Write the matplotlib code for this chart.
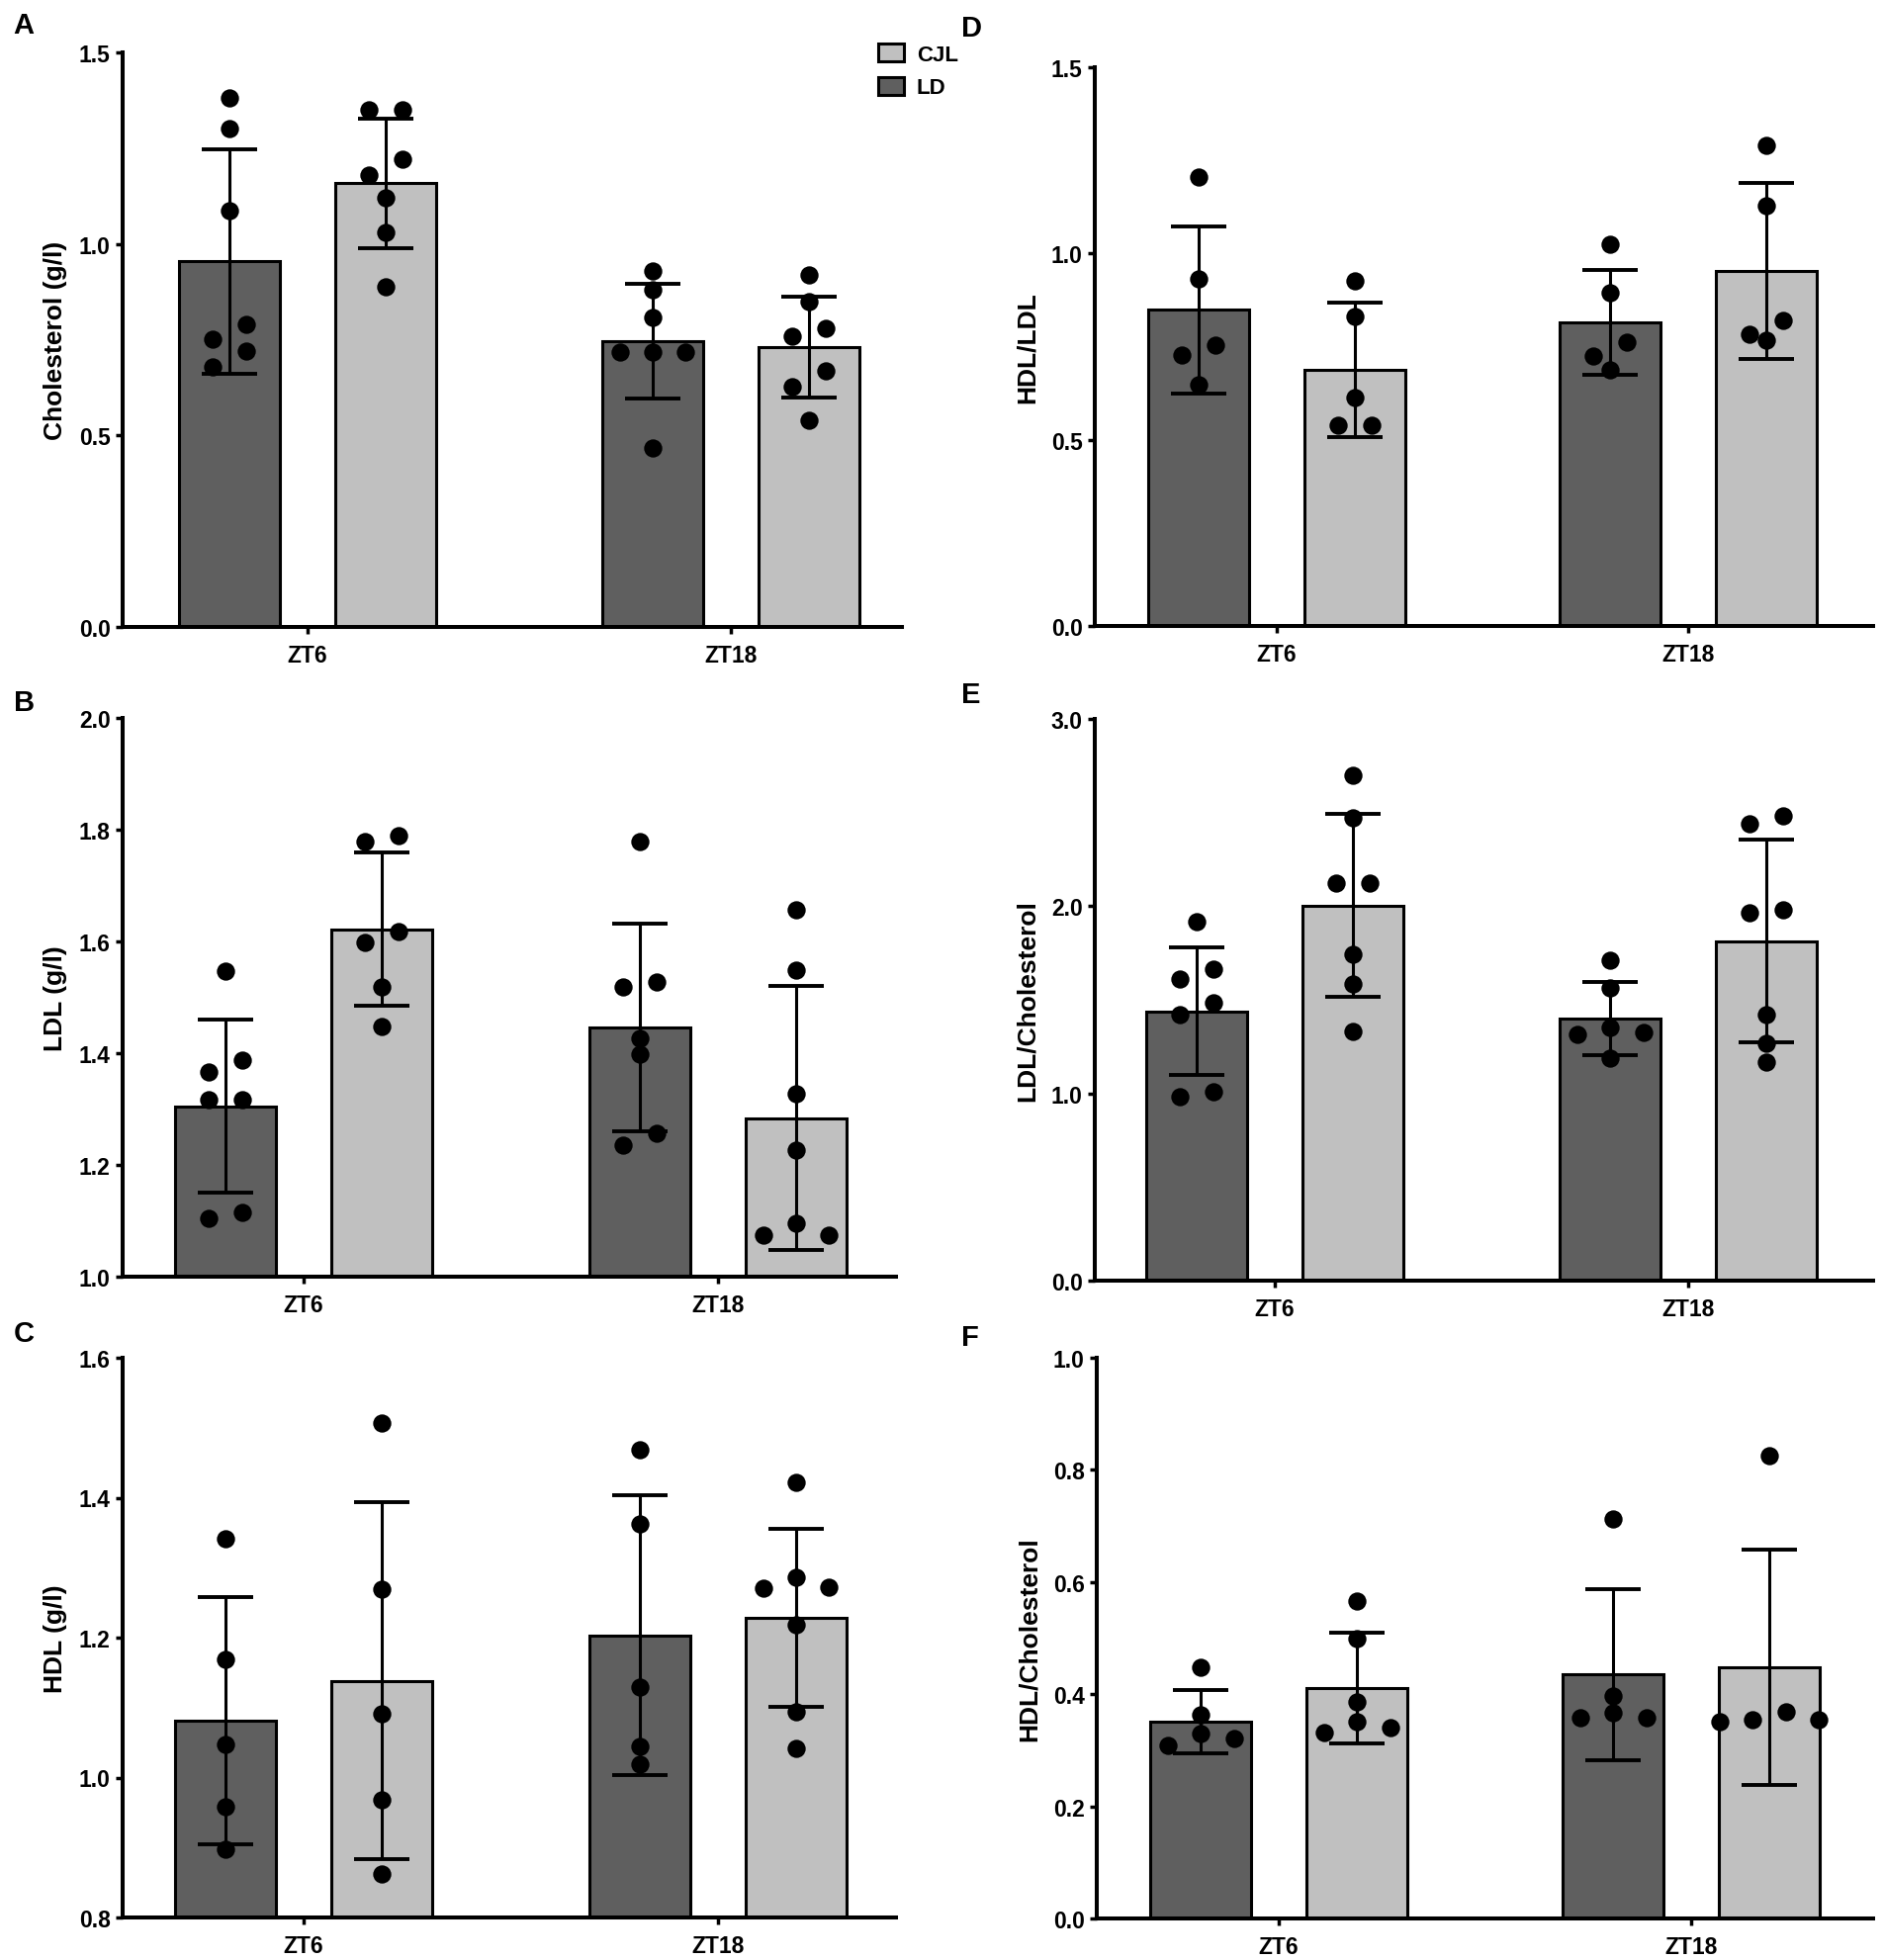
import numpy as np
import matplotlib
matplotlib.use("Agg")
import matplotlib.pyplot as plt
from matplotlib.patches import Patch

plt.rcParams['font.family'] = ['Liberation Sans', 'DejaVu Sans']
plt.rcParams['font.weight'] = 'bold'

groups = ['ZT6', 'ZT18']
conditions = ['LD', 'CJL']
bar_colors = ['#5f5f5f', '#c0c0c0']

# rows: LD, CJL ; columns: ZT6, ZT18
chol_mean = [[0.954, 0.746], [1.158, 0.731]]
chol_sd = [[0.293, 0.150], [0.168, 0.132]]
chol_pts = [[[1.380, 1.300, 1.088, 0.791, 0.751, 0.720, 0.679],
             [0.930, 0.881, 0.809, 0.718, 0.718, 0.718, 0.468]],
            [[1.351, 1.351, 1.220, 1.180, 1.120, 1.029, 0.889],
             [0.919, 0.849, 0.780, 0.758, 0.668, 0.628, 0.539]]]

ldl_mean = [[1.305, 1.446], [1.622, 1.284]]
ldl_sd = [[0.155, 0.185], [0.137, 0.237]]
ldl_pts = [[[1.547, 1.387, 1.367, 1.317, 1.317, 1.115, 1.105],
            [1.778, 1.527, 1.518, 1.427, 1.398, 1.257, 1.236]],
           [[1.789, 1.778, 1.618, 1.598, 1.519, 1.448],
            [1.657, 1.548, 1.327, 1.226, 1.095, 1.075, 1.075]]]

hdl_mean = [[1.081, 1.203], [1.138, 1.228]]
hdl_sd = [[0.177, 0.200], [0.255, 0.127]]
hdl_pts = [[[1.341, 1.169, 1.047, 0.959, 0.897],
            [1.469, 1.363, 1.129, 1.045, 1.019]],
           [[1.507, 1.269, 1.091, 0.968, 0.862],
            [1.422, 1.286, 1.272, 1.271, 1.218, 1.094, 1.041]]]

hdl_ldl_mean = [[0.849, 0.815], [0.688, 0.953]]
hdl_ldl_sd = [[0.224, 0.140], [0.180, 0.237]]
hdl_ldl_pts = [[[1.206, 0.933, 0.753, 0.728, 0.647],
                [1.025, 0.894, 0.763, 0.726, 0.687]],
               [[0.927, 0.832, 0.613, 0.538, 0.538],
                [1.290, 1.128, 0.820, 0.782, 0.766]]]

ldl_chol_mean = [[1.439, 1.401], [2.003, 1.813]]
ldl_chol_sd = [[0.342, 0.195], [0.488, 0.541]]
ldl_chol_pts = [[[1.916, 1.664, 1.609, 1.482, 1.423, 1.007, 0.981],
                 [1.712, 1.566, 1.351, 1.325, 1.314, 1.187]],
                [[2.700, 2.470, 2.124, 2.124, 1.745, 1.587, 1.329],
                 [2.485, 2.441, 1.982, 1.964, 1.423, 1.270, 1.165]]]

hdl_chol_mean = [[0.351, 0.435], [0.411, 0.448]]
hdl_chol_sd = [[0.057, 0.153], [0.099, 0.210]]
hdl_chol_pts = [[[0.448, 0.363, 0.329, 0.321, 0.309],
                 [0.712, 0.397, 0.367, 0.358, 0.358]],
                [[0.567, 0.499, 0.387, 0.351, 0.341, 0.331],
                 [0.825, 0.369, 0.354, 0.354, 0.351]]]

W, H = 1904, 1983
fig = plt.figure(figsize=(W / 100, H / 100), dpi=100)

# letter, ylabel, mean, sd, points, ylim, yticks,
# axes box in pixels (left, right, top, bottom), group centres in pixels, letter position
panels = [
    ('A', 'Cholesterol (g/l)', chol_mean, chol_sd, chol_pts, (0, 1.5), np.arange(0, 1.51, 0.5),
     (124, 912, 54, 635), (311, 739), (13, 12)),
    ('B', 'LDL (g/l)', ldl_mean, ldl_sd, ldl_pts, (1.0, 2.0), np.arange(1.0, 2.01, 0.2),
     (124, 906, 727, 1292), (307, 726), (14, 697)),
    ('C', 'HDL (g/l)', hdl_mean, hdl_sd, hdl_pts, (0.8, 1.6), np.arange(0.8, 1.61, 0.2),
     (124, 906, 1374, 1940), (307, 726), (14, 1335)),
    ('D', 'HDL/LDL', hdl_ldl_mean, hdl_ldl_sd, hdl_ldl_pts, (0, 1.5), np.arange(0, 1.51, 0.5),
     (1107, 1894, 69, 634), (1291, 1707), (972, 15)),
    ('E', 'LDL/Cholesterol', ldl_chol_mean, ldl_chol_sd, ldl_chol_pts, (0, 3.0), np.arange(0, 3.01, 1.0),
     (1107, 1894, 728, 1296), (1289, 1707), (972, 689)),
    ('F', 'HDL/Cholesterol', hdl_chol_mean, hdl_chol_sd, hdl_chol_pts, (0, 1.0), np.arange(0, 1.01, 0.2),
     (1109, 1894, 1374, 1941), (1293, 1710), (972, 1339)),
]

bar_px = 102       # bar width in pixels
shift_px = 79      # bar centre distance from group centre
row_px = 16.2      # points closer than this (pixels) share a row
col_px = 33.5      # horizontal spacing of points in a row (pixels)


def row_slots(n):
    if n % 2:
        out = [0]
        for k in range(1, n // 2 + 1):
            out += [k, -k]
    else:
        out = []
        for k in range(n // 2):
            out += [k + 0.5, -(k + 0.5)]
    return out


def swarm(vals, px_per_unit):
    vals = np.asarray(vals)
    order = np.argsort(-vals, kind='stable')
    rows, cur, top = [], [], None
    for i in order:
        if cur and (top - vals[i]) * px_per_unit < row_px:
            cur.append(i)
        else:
            if cur:
                rows.append(cur)
            cur, top = [i], vals[i]
    rows.append(cur)
    offs = np.zeros(len(vals))
    for r in rows:
        for i, sl in zip(r, row_slots(len(r))):
            offs[i] = sl
    return offs


for letter, ylabel, mean, sd, pts, ylim, yticks, box, centres, lpos in panels:
    l, r, t, b = box
    u = centres[1] - centres[0]
    ax = fig.add_axes([l / W, 1 - b / H, (r - l) / W, (b - t) / H])
    ax.set_xlim((l - centres[0]) / u, (r - centres[0]) / u)
    ax.set_ylim(*ylim)
    ypx = (b - t) / (ylim[1] - ylim[0])
    xstep = col_px / u
    x0 = np.arange(len(groups))
    for c in range(len(conditions)):
        xs = x0 + (2 * c - 1) * shift_px / u
        ax.bar(xs, mean[c], width=bar_px / u, color=bar_colors[c], edgecolor='black',
               linewidth=2.2, zorder=2)
        ax.errorbar(xs, mean[c], yerr=sd[c], fmt='none', ecolor='black',
                    elinewidth=2.2, capsize=20, capthick=2.8, zorder=3)
        for g in range(len(groups)):
            v = np.array(pts[c][g])
            off = swarm(v, ypx)
            ax.scatter(xs[g] + off * xstep, v, s=175, color='black', zorder=4,
                       linewidths=0, clip_on=False)

    for side in ['top', 'right']:
        ax.spines[side].set_visible(False)
    for side in ['left', 'bottom']:
        ax.spines[side].set_linewidth(2.9)
    ax.set_xticks(x0)
    ax.set_xticklabels(groups)
    ax.set_yticks(yticks)
    ax.set_yticklabels(['%.1f' % v for v in yticks])
    ax.tick_params(axis='both', direction='out', length=5, width=2.5, labelsize=16.5)
    ax.tick_params(axis='x', pad=7)
    ax.tick_params(axis='y', pad=4)
    ax.set_ylabel(ylabel, fontsize=19, fontweight='bold')
    ax.yaxis.set_label_coords(-56 / (r - l), 0.5)

    fig.text(lpos[0] / W, 1 - lpos[1] / H, letter, fontsize=21, fontweight='bold',
             ha='left', va='top')

handles = [Patch(facecolor=bar_colors[1], edgecolor='black', linewidth=2.2),
           Patch(facecolor=bar_colors[0], edgecolor='black', linewidth=2.2)]
fig.legend(handles, ['CJL', 'LD'], loc='upper left', bbox_to_anchor=(888 / W, 1 - 45 / H),
           frameon=False, borderpad=0, borderaxespad=0, handlelength=1.15,
           handleheight=0.85, handletextpad=0.6, labelspacing=0.55, fontsize=16)

fig.savefig('out.png', dpi=100)
